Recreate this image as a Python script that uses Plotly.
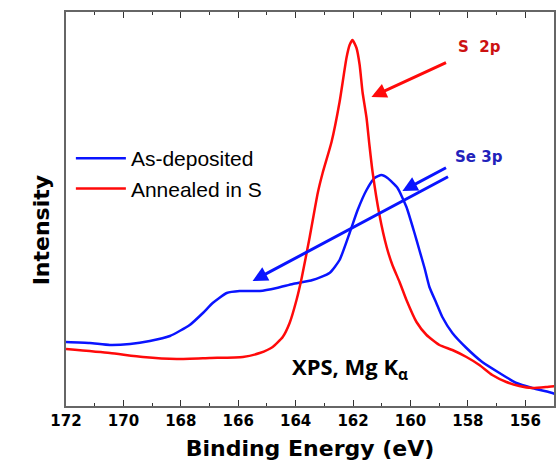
import plotly.graph_objects as go

# Binding energy (eV) and intensity (arb. units)
be_asdep = [172.00, 171.17, 170.47, 169.77, 169.08, 168.38, 167.69, 167.23, 166.89, 166.40,
            165.95, 165.25, 164.66, 164.10, 163.41, 162.82, 162.47, 162.12, 161.84, 161.53,
            161.25, 161.01, 160.80, 160.45, 160.14, 159.86, 159.69, 159.51, 159.34, 159.10,
            158.89, 158.54, 158.05, 157.50, 156.90, 156.31, 155.76, 155.06, 154.96]
int_asdep = [64, 63, 61, 62, 65, 70, 81, 93, 103, 113,
             115, 115, 118, 122, 126, 133, 146, 173, 196, 216,
             228, 231, 228, 218, 199, 173, 156, 138, 119, 103,
             89, 73, 58, 44, 33, 23, 18, 13, 12]

be_anneal = [172.00, 170.47, 169.32, 168.14, 166.99, 165.84, 165.25, 164.80, 164.45, 164.21,
             163.97, 163.79, 163.51, 163.23, 163.06, 162.75, 162.47, 162.23, 162.12, 162.02,
             161.88, 161.77, 161.67, 161.53, 161.43, 161.32, 161.08, 160.83, 160.63, 160.38,
             160.14, 159.79, 159.44, 158.99, 158.54, 158.05, 157.60, 157.15, 156.66, 156.21,
             155.76, 155.27, 154.96]
int_anneal = [57, 53, 49, 47, 48, 49, 53, 59, 69, 83,
              106, 128, 169, 213, 233, 264, 304, 348, 361, 366,
              358, 341, 314, 288, 261, 234, 191, 159, 141, 124,
              106, 84, 71, 61, 56, 49, 41, 31, 24, 20,
              18, 19, 20]

x_ticks = [172, 170, 168, 166, 164, 162, 160, 158, 156]
series_names = ["As-deposited", "Annealed in S"]

fig = go.Figure()
fig.add_trace(go.Scatter(x=be_asdep, y=int_asdep, mode="lines", name=series_names[0],
                         line=dict(color="#0a14ff", width=2.5, shape="spline", smoothing=0.5)))
fig.add_trace(go.Scatter(x=be_anneal, y=int_anneal, mode="lines", name=series_names[1],
                         line=dict(color="#ff0a0a", width=2.5, shape="spline", smoothing=0.5)))

axis_col = "#666666"
fig.update_xaxes(range=[172, 155], tickvals=x_ticks, ticktext=[str(t) for t in x_ticks],
                 ticks="inside", ticklen=6, tickwidth=1.2, tickcolor="#333333",
                 minor=dict(dtick=1, ticks="inside", ticklen=3, tickcolor="#333333", tick0=171),
                 showline=True, linecolor=axis_col, linewidth=1.5, mirror="ticks",
                 showgrid=False, zeroline=False,
                 tickfont=dict(family="DejaVu Sans", size=15, color="black", weight="bold"),
                 title=dict(text="Binding Energy (eV)", standoff=12,
                            font=dict(family="DejaVu Sans", size=22, color="black", weight="bold")))
fig.update_yaxes(range=[0, 394], showticklabels=False, ticks="",
                 showline=True, linecolor=axis_col, linewidth=1.5, mirror=True,
                 showgrid=False, zeroline=False)

# y-axis title placed as rotated text
fig.add_annotation(x=-0.08, y=0.447, xref="paper", yref="paper", text="Intensity", textangle=-90,
                   showarrow=False,
                   font=dict(family="DejaVu Sans", size=22, color="black", weight="bold"))

fig.add_annotation(x=161.36, y=309, ax=158.71, ay=344, xref="x", yref="y", axref="x", ayref="y",
                   showarrow=True, arrowhead=2, arrowsize=1, arrowwidth=3, arrowcolor="#ff0a0a", text="")
fig.add_annotation(x=160.28, y=215, ax=158.71, ay=239, xref="x", yref="y", axref="x", ayref="y",
                   showarrow=True, arrowhead=2, arrowsize=1, arrowwidth=3, arrowcolor="#0a14ff", text="")
fig.add_annotation(x=165.50, y=125, ax=158.64, ay=230, xref="x", yref="y", axref="x", ayref="y",
                   showarrow=True, arrowhead=2, arrowsize=1, arrowwidth=3, arrowcolor="#0a14ff", text="")

fig.add_annotation(x=157.6, y=359, xref="x", yref="y", text="S  2p", showarrow=False,
                   font=dict(family="DejaVu Sans", size=15, color="#cc1111", weight="bold"))
fig.add_annotation(x=157.6, y=249, xref="x", yref="y", text="Se 3p", showarrow=False,
                   font=dict(family="DejaVu Sans", size=15, color="#2222bb", weight="bold"))
fig.add_annotation(x=162.12, y=38, xref="x", yref="y", text="XPS, Mg K<sub>α</sub>", showarrow=False,
                   font=dict(family="Open Sans", size=22, color="black", weight="bold"))

fig.update_layout(
    width=558, height=462,
    margin=dict(l=66, r=2, t=12, b=56),
    paper_bgcolor="white", plot_bgcolor="white",
    showlegend=True,
    legend=dict(x=0.01, y=0.59, xanchor="left", yanchor="middle",
                bgcolor="rgba(0,0,0,0)", borderwidth=0, itemwidth=50, tracegroupgap=0,
                font=dict(family="Liberation Sans", size=21, color="black")),
)

fig.write_html("out.html")
